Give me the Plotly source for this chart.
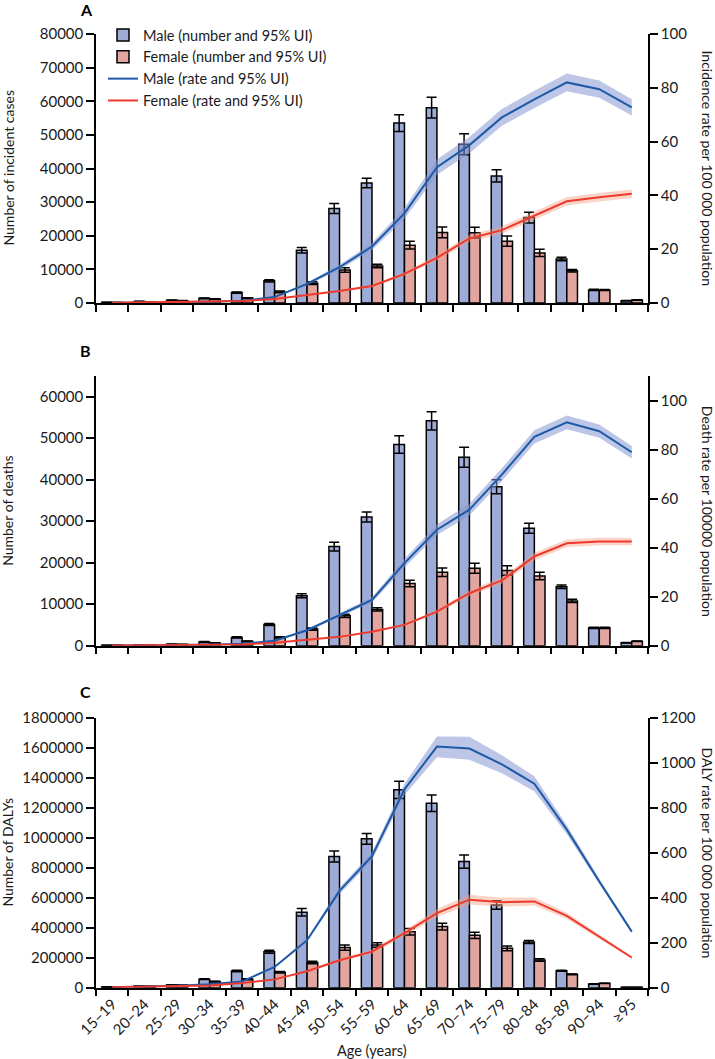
import plotly.graph_objects as go

ages = ["15–19", "20–24", "25–29", "30–34", "35–39", "40–44", "45–49", "50–54", "55–59",
        "60–64", "65–69", "70–74", "75–79", "80–84", "85–89", "90–94", "≥95"]

# ---- Panel A: incidence ----
inc_m = [200, 450, 800, 1400, 3100, 6600, 15700, 28100, 35700, 53500, 58100, 47200, 37800, 25400, 13100, 3900, 700]
inc_m_err = [30, 50, 80, 120, 200, 350, 800, 1500, 1400, 2500, 3100, 3100, 1800, 1600, 500, 200, 60]
inc_f = [150, 350, 700, 1200, 1450, 3300, 5900, 9800, 11000, 17200, 21000, 20900, 18400, 14900, 9600, 3900, 900]
inc_f_err = [20, 40, 60, 100, 120, 250, 400, 650, 550, 1150, 1600, 1600, 1500, 1100, 400, 150, 60]
inc_rate_m = [0.1, 0.2, 0.3, 0.5, 0.8, 2.2, 7.1, 13.3, 21.0, 33.3, 50.5, 58.7, 69.0, 75.7, 82.0, 79.5, 72.7]
inc_rate_m_lo = [0.08, 0.16, 0.25, 0.42, 0.7, 2.0, 6.6, 12.4, 19.7, 31.3, 47.7, 55.7, 65.9, 72.5, 78.7, 76.3, 69.7]
inc_rate_m_hi = [0.12, 0.24, 0.35, 0.58, 0.9, 2.4, 7.6, 14.2, 22.3, 35.3, 53.3, 61.7, 72.1, 78.9, 85.3, 82.7, 75.7]
inc_rate_f = [0.1, 0.2, 0.3, 0.5, 0.7, 1.5, 2.9, 4.5, 6.3, 10.8, 16.8, 24.0, 27.1, 32.3, 37.8, 39.3, 40.6]
inc_rate_f_lo = [0.08, 0.17, 0.26, 0.44, 0.62, 1.4, 2.7, 4.2, 5.9, 10.1, 15.8, 22.7, 25.7, 30.8, 36.2, 37.7, 39.0]
inc_rate_f_hi = [0.12, 0.23, 0.34, 0.56, 0.78, 1.6, 3.1, 4.8, 6.7, 11.5, 17.8, 25.3, 28.5, 33.8, 39.4, 40.9, 42.2]

# ---- Panel B: deaths ----
dth_m = [100, 200, 350, 900, 2000, 5100, 12050, 23900, 31000, 48500, 54200, 45400, 38300, 28300, 14200, 4300, 700]
dth_m_err = [20, 30, 50, 100, 150, 250, 500, 1050, 1200, 2100, 2200, 2400, 1700, 1200, 400, 150, 50]
dth_f = [80, 150, 300, 650, 1050, 2000, 4000, 7200, 8750, 15000, 17700, 18650, 18100, 16800, 10800, 4300, 1100]
dth_f_err = [15, 25, 40, 70, 100, 150, 250, 400, 400, 800, 1000, 1200, 1150, 900, 400, 150, 60]
dth_rate_m = [0.05, 0.1, 0.2, 0.4, 0.8, 2.0, 6.3, 12.4, 18.7, 33.7, 47.3, 55.5, 69.8, 85.2, 91.1, 87.5, 78.9]
dth_rate_m_lo = [0.04, 0.08, 0.17, 0.35, 0.7, 1.8, 5.9, 11.6, 17.6, 31.9, 45.1, 53.1, 67.2, 82.5, 88.3, 84.8, 76.4]
dth_rate_m_hi = [0.06, 0.12, 0.23, 0.45, 0.9, 2.2, 6.7, 13.2, 19.8, 35.5, 49.5, 57.9, 72.4, 87.9, 93.9, 90.2, 81.4]
dth_rate_f = [0.05, 0.1, 0.2, 0.3, 0.5, 1.2, 2.5, 3.6, 5.7, 8.5, 13.9, 21.4, 26.6, 36.4, 41.8, 42.5, 42.5]
dth_rate_f_lo = [0.04, 0.08, 0.17, 0.26, 0.44, 1.1, 2.3, 3.35, 5.35, 8.0, 13.1, 20.3, 25.3, 34.9, 40.3, 41.0, 41.0]
dth_rate_f_hi = [0.06, 0.12, 0.23, 0.34, 0.56, 1.3, 2.7, 3.85, 6.05, 9.0, 14.7, 22.5, 27.9, 37.9, 43.3, 44.0, 44.0]

# ---- Panel C: DALYs ----
daly_m = [5000, 11000, 19000, 57000, 112000, 240000, 503000, 874000, 992000, 1318000, 1229000, 840000, 551000, 305000, 113000, 24000, 2500]
daly_m_err = [500, 800, 1200, 3000, 5000, 10000, 25000, 37000, 36000, 58000, 55000, 44000, 29000, 10000, 4000, 1500, 200]
daly_f = [4000, 9000, 17000, 41000, 56000, 103000, 168000, 267000, 284000, 373000, 407000, 349000, 262000, 185000, 89000, 29000, 2500]
daly_f_err = [400, 700, 1000, 2500, 3000, 5000, 8000, 17000, 15000, 22000, 22000, 21000, 16000, 8000, 3000, 1200, 200]
daly_rate_m = [2, 5, 9, 15, 28, 92, 211, 430, 584, 881, 1071, 1062, 992, 906, 702, 472, 249]
daly_rate_m_lo = [1.5, 4.2, 8, 13.5, 26, 88, 203, 416, 566, 856, 1024, 1012, 952, 873, 682, 460, 243]
daly_rate_m_hi = [2.5, 5.8, 10, 16.5, 30, 96, 219, 444, 602, 906, 1116, 1114, 1032, 939, 722, 484, 255]
daly_rate_f = [2, 4, 7, 10, 21, 37, 73, 122, 160, 242, 331, 391, 380, 383, 319, 227, 134]
daly_rate_f_lo = [1.7, 3.5, 6.3, 9, 19.5, 35, 69, 115, 151, 230, 313, 369, 360, 365, 305, 218, 129]
daly_rate_f_hi = [2.3, 4.5, 7.7, 11, 22.5, 39, 77, 129, 169, 254, 349, 413, 400, 401, 333, 236, 139]

panels = [
    dict(letter="A", m=inc_m, me=inc_m_err, f=inc_f, fe=inc_f_err,
         rm=inc_rate_m, rml=inc_rate_m_lo, rmh=inc_rate_m_hi,
         rf=inc_rate_f, rfl=inc_rate_f_lo, rfh=inc_rate_f_hi,
         lrange=[0, 80000], ldtick=10000, rrange=[0, 100], rdtick=20,
         ltitle="Number of incident cases",
         rtitle="Incidence rate per 100 000 population",
         top=34, bottom=303, letter_y=9),
    dict(letter="B", m=dth_m, me=dth_m_err, f=dth_f, fe=dth_f_err,
         rm=dth_rate_m, rml=dth_rate_m_lo, rmh=dth_rate_m_hi,
         rf=dth_rate_f, rfl=dth_rate_f_lo, rfh=dth_rate_f_hi,
         lrange=[0, 65000], ldtick=10000, rrange=[0, 110], rdtick=20,
         ltitle="Number of deaths",
         rtitle="Death rate per 100000 population",
         top=376, bottom=645.7, letter_y=350),
    dict(letter="C", m=daly_m, me=daly_m_err, f=daly_f, fe=daly_f_err,
         rm=daly_rate_m, rml=daly_rate_m_lo, rmh=daly_rate_m_hi,
         rf=daly_rate_f, rfl=daly_rate_f_lo, rfh=daly_rate_f_hi,
         lrange=[0, 1800000], ldtick=200000, rrange=[0, 1200], rdtick=200,
         ltitle="Number of DALYs",
         rtitle="DALY rate per 100 000 population",
         top=717.5, bottom=987.7, letter_y=692),
]

MALE_BAR = "#9EABD6"
FEMALE_BAR = "#E3A5A0"
MALE_LINE = "#1C5AA8"
FEMALE_LINE = "#EE3A2E"
MALE_BAND = "rgba(135,152,212,0.55)"
FEMALE_BAND = "rgba(246,160,132,0.45)"
FONT = "Lato"
TXT = "#1a1a1a"

W, H = 715, 1059
ML = 96
PLOT_RIGHT = 648
MR = W - PLOT_RIGHT
MT = 34
MB = H - 988
PW = W - ML - MR
PH = H - MT - MB


def px_x(p):
    """page x pixel -> paper coordinate"""
    return (p - ML) / PW


def px_y(p):
    """page y pixel -> paper coordinate"""
    return (H - MB - p) / PH


fig = go.Figure()
layout = {}
annotations = []

for i, p in enumerate(panels):
    n = i + 1
    xa = "x" if n == 1 else f"x{n}"
    yl_idx = 2 * i + 1
    yr_idx = 2 * i + 2
    yl = "y" if yl_idx == 1 else f"y{yl_idx}"
    yr = f"y{yr_idx}"
    show = (i == 0)

    fig.add_trace(go.Bar(x=ages, y=p["m"], name="Male (number and 95% UI)",
                         marker=dict(color=MALE_BAR, line=dict(color="black", width=1.5)),
                         error_y=dict(type="data", array=p["me"], color="black",
                                      thickness=1.5, width=5),
                         xaxis=xa, yaxis=yl, showlegend=show, legendrank=1))
    fig.add_trace(go.Bar(x=ages, y=p["f"], name="Female (number and 95% UI)",
                         marker=dict(color=FEMALE_BAR, line=dict(color="black", width=1.5)),
                         error_y=dict(type="data", array=p["fe"], color="black",
                                      thickness=1.5, width=5),
                         xaxis=xa, yaxis=yl, showlegend=show, legendrank=2))
    # uncertainty bands
    fig.add_trace(go.Scatter(x=ages, y=p["rml"], mode="lines", line=dict(width=0, color=MALE_BAND),
                             xaxis=xa, yaxis=yr, showlegend=False, hoverinfo="skip"))
    fig.add_trace(go.Scatter(x=ages, y=p["rmh"], mode="lines", line=dict(width=0, color=MALE_BAND),
                             fill="tonexty", fillcolor=MALE_BAND,
                             xaxis=xa, yaxis=yr, showlegend=False, hoverinfo="skip"))
    fig.add_trace(go.Scatter(x=ages, y=p["rfl"], mode="lines", line=dict(width=0, color=FEMALE_BAND),
                             xaxis=xa, yaxis=yr, showlegend=False, hoverinfo="skip"))
    fig.add_trace(go.Scatter(x=ages, y=p["rfh"], mode="lines", line=dict(width=0, color=FEMALE_BAND),
                             fill="tonexty", fillcolor=FEMALE_BAND,
                             xaxis=xa, yaxis=yr, showlegend=False, hoverinfo="skip"))
    fig.add_trace(go.Scatter(x=ages, y=p["rm"], mode="lines", name="Male (rate and 95% UI)",
                             line=dict(color=MALE_LINE, width=2),
                             xaxis=xa, yaxis=yr, showlegend=show, legendrank=3))
    fig.add_trace(go.Scatter(x=ages, y=p["rf"], mode="lines", name="Female (rate and 95% UI)",
                             line=dict(color=FEMALE_LINE, width=2),
                             xaxis=xa, yaxis=yr, showlegend=show, legendrank=4))

    xkey = "xaxis" if n == 1 else f"xaxis{n}"
    ylkey = "yaxis" if yl_idx == 1 else f"yaxis{yl_idx}"
    yrkey = f"yaxis{yr_idx}"
    dom = [max(0.0, px_y(p["bottom"])), min(1.0, px_y(p["top"]))]

    layout[xkey] = dict(domain=[0, 1], anchor=yl, type="category", range=[-0.5, 16.5],
                        showline=True, linecolor="black", linewidth=1.5,
                        ticks="outside", ticklen=7, tickwidth=1.5, tickcolor="black",
                        tickson="boundaries", showgrid=False, zeroline=False,
                        showticklabels=(i == 2), tickangle=-45,
                        tickfont=dict(family=FONT, size=15, color=TXT))
    layout[ylkey] = dict(domain=dom, anchor=xa, range=p["lrange"], dtick=p["ldtick"],
                         tick0=0, tickformat="d", showline=True, linecolor="black", linewidth=1.5,
                         ticks="outside", ticklen=8, tickwidth=1.5, tickcolor="black",
                         showgrid=False, zeroline=False,
                         tickfont=dict(family=FONT, size=15, color=TXT))
    layout[yrkey] = dict(domain=dom, anchor=xa, overlaying=yl, side="right",
                         range=p["rrange"], dtick=p["rdtick"], tick0=0, tickformat="d",
                         showline=True, linecolor="black", linewidth=1.5,
                         ticks="outside", ticklen=8, tickwidth=1.5, tickcolor="black",
                         showgrid=False, zeroline=False,
                         tickfont=dict(family=FONT, size=15, color=TXT))

    ymid = (dom[0] + dom[1]) / 2
    annotations.append(dict(text=p["ltitle"], xref="paper", yref="paper", x=px_x(8), y=ymid,
                            textangle=-90, showarrow=False, xanchor="center", yanchor="middle",
                            font=dict(family=FONT, size=14, color=TXT)))
    annotations.append(dict(text=p["rtitle"], xref="paper", yref="paper", x=px_x(707), y=ymid,
                            textangle=90, showarrow=False, xanchor="center", yanchor="middle",
                            font=dict(family=FONT, size=14, color=TXT)))
    annotations.append(dict(text="<b>" + p["letter"] + "</b>", xref="paper", yref="paper",
                            x=px_x(78), y=px_y(p["letter_y"]), showarrow=False,
                            xanchor="left", yanchor="middle",
                            font=dict(family=FONT, size=16, color="black")))

annotations.append(dict(text="Age (years)", xref="paper", yref="paper", x=0.5, y=px_y(1050),
                        showarrow=False, xanchor="center", yanchor="middle",
                        font=dict(family=FONT, size=14.5, color=TXT)))

fig.update_layout(
    width=W, height=H,
    margin=dict(l=ML, r=MR, t=MT, b=MB),
    paper_bgcolor="white", plot_bgcolor="white",
    barmode="group", bargap=0.344, bargroupgap=0,
    font=dict(family=FONT, size=14, color=TXT),
    legend=dict(x=px_x(103), y=px_y(19), xanchor="left", yanchor="top",
                bgcolor="rgba(0,0,0,0)", font=dict(family=FONT, size=14.5, color=TXT),
                traceorder="normal", tracegroupgap=0),
    annotations=annotations,
    **layout,
)

# remove the default 8 px page margin so the figure sits at the window's corner
fig.write_html("out.html",
               config={"displayModeBar": False},
               post_script="document.body.style.margin='0';document.body.style.overflow='hidden';")
